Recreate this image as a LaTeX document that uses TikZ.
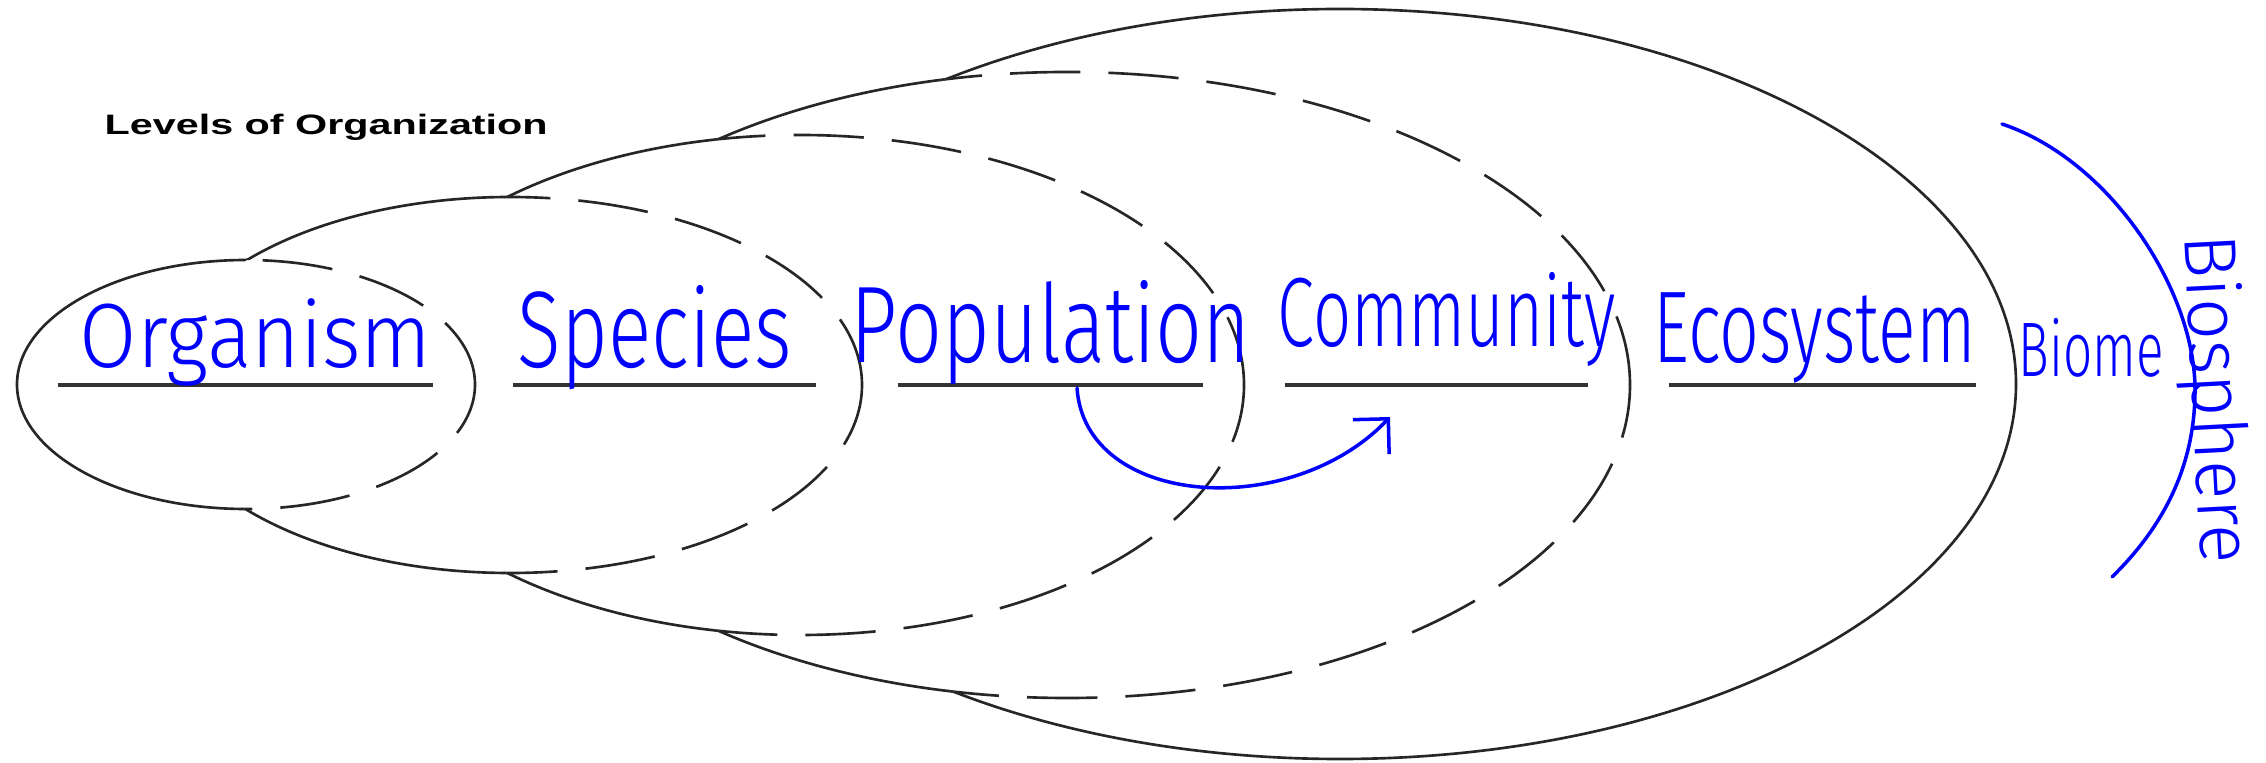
\documentclass[tikz,border=0pt]{standalone}
\usepackage{fontspec}
\usepackage{graphicx}
\usetikzlibrary{arrows.meta}

\newfontfamily\titlefont{Liberation Sans}
\newfontfamily\handfont{Fira Sans Light}

% the five nested rings, as path pieces
\tikzset{
  orbA/.style={insert path={(2.46,3.775) ellipse [x radius=2.29, y radius=1.245]}},
  orbB/.style={insert path={(5.10,3.77) ellipse [x radius=3.52, y radius=1.88]}},
  orbC/.style={insert path={(8.00,3.77) ellipse [x radius=4.44, y radius=2.50]}},
  orbD/.style={insert path={(10.67,3.77) ellipse [x radius=5.63, y radius=3.13]}},
  orbE/.style={insert path={(13.40,3.78) ellipse [x radius=6.76, y radius=3.75]}},
  offorb/.style={insert path={(-1,-1) -- (-1,9) -- (24,9) -- (24,-1) -- cycle}}
}

\newcommand{\handword}[3]{\resizebox{#1}{\height}{\fontsize{#2}{#2}\selectfont #3}}

\begin{document}
\begin{tikzpicture}[
    ring/.style={draw=black!85, line width=0.75pt},
    inner ring/.style={ring, dash pattern=on 20pt off 8pt},
    rule/.style={draw=black!80, line width=1.1pt},
    hand/.style={text=blue, inner sep=0pt, anchor=base west, font=\handfont},
    ink/.style={draw=blue, line width=1pt, line cap=round, line join=round}
  ]
  \path[use as bounding box, fill=white] (0,0) rectangle (22.66,7.62);

  % dashed parts: where a ring runs inside the next one
  \begin{scope} \clip[orbB]; \draw[inner ring, orbA]; \end{scope}
  \begin{scope} \clip[orbC]; \draw[inner ring, orbB]; \end{scope}
  \begin{scope} \clip[orbD]; \draw[inner ring, orbC]; \end{scope}
  \begin{scope} \clip[orbE]; \draw[inner ring, orbD]; \end{scope}

  % solid outline
  \begin{scope} \clip[offorb, orbB]; \draw[ring, orbA]; \end{scope}
  \begin{scope} \clip[offorb, orbA]; \clip[offorb, orbC]; \draw[ring, orbB]; \end{scope}
  \begin{scope} \clip[offorb, orbB]; \clip[offorb, orbD]; \draw[ring, orbC]; \end{scope}
  \begin{scope} \clip[offorb, orbC]; \clip[offorb, orbE]; \draw[ring, orbD]; \end{scope}
  \begin{scope} \clip[offorb, orbD]; \draw[ring, orbE]; \end{scope}

  \node[anchor=base west, inner sep=0pt] (title) at (1.04,6.27)
    {\resizebox{4.43cm}{\height}{\titlefont\bfseries\fontsize{8}{8}\selectfont Levels of Organization}};

  % underlines
  \foreach \a/\b in {0.58/4.33, 5.13/8.16, 8.98/12.03, 12.85/15.88, 16.69/19.76}
    \draw[rule] (\a,3.77) -- (\b,3.77);

  % handwritten labels
  \node[hand] (org) at (0.79,3.94) {\handword{3.52cm}{26}{Organism}};
  \node[hand] (spec) at (5.17,3.94) {\handword{2.74cm}{31}{Species}};
  \node[hand] (pop) at (8.50,3.99) {\handword{4.00cm}{31}{Population}};
  \node[hand] (com) at (12.77,4.15) {\handword{3.38cm}{28}{Community}};
  \node[hand] (eco) at (16.53,3.99) {\handword{3.22cm}{29}{Ecosystem}};
  \node[hand] (bio) at (20.18,3.85) {\handword{1.45cm}{22}{Biome}};
  \node[hand, rotate=-87] (bsph) at (21.84,5.27) {\handword{3.3cm}{21}{Biosphere}};

  \coordinate (popfoot) at (10.77,3.74);
  \coordinate (comfoot) at (13.90,3.45);
  \draw[ink, -{Straight Barb[length=2.5mm, width=5mm]}] (popfoot)
    .. controls (10.85,2.55) and (12.90,2.40) .. (comfoot);

  \coordinate (arcTop) at (20.02,6.38);
  \coordinate (arcMid) at (21.95,3.72);
  \coordinate (arcEnd) at (21.12,1.85);
  \draw[ink] (arcTop) .. controls (21.10,6.02) and (21.95,4.72) .. (arcMid)
    .. controls (21.95,2.92) and (21.60,2.32) .. (arcEnd);
\end{tikzpicture}
\end{document}
